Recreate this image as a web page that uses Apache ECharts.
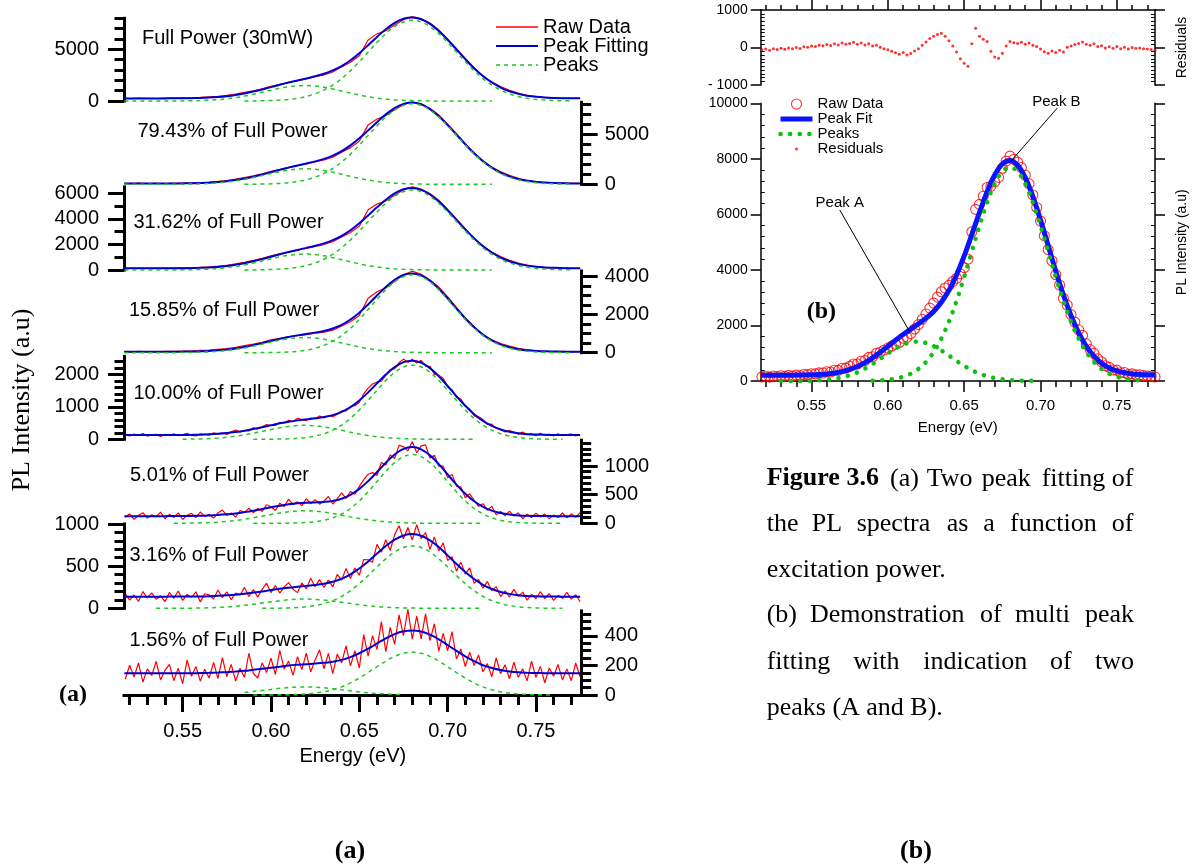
<!DOCTYPE html>
<html>
<head>
<meta charset="utf-8">
<title>Two peak fitting of PL spectra</title>
<script src="https://cdn.jsdelivr.net/npm/echarts@6/dist/echarts.min.js"></script>
<style>
html,body{margin:0;padding:0;background:#ffffff;}
#chart{width:1193px;height:865px;}
</style>
</head>
<body>
<div id="chart"></div>
<script>
const _ = null;

// ---------------- energies (eV) ----------------
const energy = [0.517,0.52,0.525,0.53,0.535,0.54,0.545,0.55,0.555,0.56,0.565,0.57,0.575,0.58,0.585,0.59,0.595,0.6,0.605,0.61,0.615,0.62,0.625,0.63,0.635,0.64,0.645,0.65,0.655,0.66,0.665,0.67,0.675,0.68,0.685,0.69,0.695,0.7,0.705,0.71,0.715,0.72,0.725,0.73,0.735,0.74,0.745,0.75,0.755,0.76,0.765,0.77,0.775];
const energyFine = [0.5175,0.52,0.5225,0.525,0.5275,0.53,0.5325,0.535,0.5375,0.54,0.5425,0.545,0.5475,0.55,0.5525,0.555,0.5575,0.56,0.5625,0.565,0.5675,0.57,0.5725,0.575,0.5775,0.58,0.5825,0.585,0.5875,0.59,0.5925,0.595,0.5975,0.6,0.6025,0.605,0.6075,0.61,0.6125,0.615,0.6175,0.62,0.6225,0.625,0.6275,0.63,0.6325,0.635,0.6375,0.64,0.6425,0.645,0.6475,0.65,0.6525,0.655,0.6575,0.66,0.6625,0.665,0.6675,0.67,0.6725,0.675,0.6775,0.68,0.6825,0.685,0.6875,0.69,0.6925,0.695,0.6975,0.7,0.7025,0.705,0.7075,0.71,0.7125,0.715,0.7175,0.72,0.7225,0.725,0.7275,0.73,0.7325,0.735,0.7375,0.74,0.7425,0.745,0.7475,0.75,0.7525,0.755,0.7575,0.76,0.7625,0.765,0.7675,0.77,0.7725,0.775];

// ---------------- panel (a) labels ----------------
const subplotLabels = ['Full Power (30mW)','79.43% of Full Power','31.62% of Full Power','15.85% of Full Power','10.00% of Full Power','5.01% of Full Power','3.16% of Full Power','1.56% of Full Power'];

// ---------------- panel (a) data ----------------
const raw1 = [280,230,270,261,241,283,276,303,305,347,392,457,548,672,830,990,1179,1424,1621,1817,1961,2126,2351,2512,2807,3304,3740,4375,5898,6494,6795,7361,7860,8167,7964,7539,6888,6015,5066,4109,3205,2368,1834,1393,1043,768,555,424,337,287,284,262,246];
const fit1 = [250,250,250,251,251,253,256,263,275,297,332,387,468,582,730,910,1119,1344,1571,1787,1991,2186,2391,2632,2957,3384,3940,4625,5398,6194,6945,7561,7960,8087,7914,7459,6768,5915,4986,4049,3175,2418,1794,1303,943,688,515,404,337,297,274,262,256];
const peakA1 = [0,0,0,1,1,3,7,13,25,47,82,137,218,330,474,648,845,1047,1235,1383,1476,1499,1448,1329,1163,966,765,576,413,281,182,112,66,37,20,10,5,2,1,0,0,0,0,_,_,_,_,_,_,_,_,_,_];
const peakB1 = [_,_,_,_,_,_,_,_,_,_,_,_,_,_,5,12,24,47,87,154,265,438,693,1053,1544,2168,2925,3799,4735,5663,6513,7199,7644,7800,7644,7199,6513,5663,4735,3799,2925,2168,1544,1053,693,438,265,154,87,47,24,12,_];

const raw2 = [100,70,110,81,96,78,107,128,136,178,219,292,381,518,660,852,1048,1295,1485,1688,1859,2030,2232,2440,2705,3216,3669,4315,5942,6534,6870,7446,7957,8228,8069,7580,6937,6016,5067,4050,3139,2278,1724,1247,906,602,404,264,179,128,115,87,86];
const fit2 = [80,80,80,81,81,83,87,93,106,128,164,222,306,423,575,762,978,1210,1445,1668,1879,2080,2292,2540,2875,3316,3889,4595,5392,6214,6990,7626,8037,8168,7989,7520,6807,5926,4967,4000,3099,2318,1674,1167,796,532,354,239,169,128,105,92,86];
const peakA2 = [0,0,0,1,1,3,7,13,26,48,84,142,225,341,490,670,873,1082,1276,1429,1525,1548,1496,1373,1201,998,791,595,426,290,188,116,68,38,20,10,5,2,1,0,0,0,0,_,_,_,_,_,_,_,_,_,_];
const peakB2 = [_,_,_,_,_,_,_,_,_,_,_,_,_,_,6,12,25,48,89,159,274,452,716,1087,1594,2238,3019,3920,4886,5844,6722,7430,7889,8050,7889,7430,6722,5844,4886,3920,3019,2238,1594,1087,716,452,274,159,89,48,25,12,_];

const raw3 = [145,120,150,135,126,153,145,166,171,209,243,299,372,477,604,749,913,1110,1268,1421,1552,1680,1852,1991,2206,2592,2931,3424,4718,5161,5400,5852,6260,6501,6331,5977,5463,4749,4005,3214,2504,1837,1407,1044,766,541,382,274,204,167,159,134,134];
const fit3 = [130,130,130,130,131,133,135,141,151,169,198,244,312,407,529,679,853,1040,1228,1406,1572,1730,1892,2081,2336,2672,3111,3654,4268,4901,5500,5992,6310,6411,6271,5907,5353,4669,3925,3174,2474,1867,1367,974,686,481,342,254,199,167,149,139,134];
const peakA3 = [0,0,0,1,1,3,5,11,21,39,68,114,181,275,395,540,704,873,1029,1153,1230,1249,1206,1108,969,805,638,480,344,234,151,94,55,31,16,8,4,2,1,0,0,0,0,_,_,_,_,_,_,_,_,_,_];
const peakB3 = [_,_,_,_,_,_,_,_,_,_,_,_,_,_,4,9,19,38,69,124,213,351,556,844,1238,1738,2344,3044,3794,4538,5219,5769,6125,6250,6125,5769,5219,4538,3794,3044,2344,1738,1238,844,556,351,213,124,69,38,19,9,_];

const raw4 = [70,35,75,50,41,77,68,87,84,120,134,178,216,287,370,453,550,678,758,838,892,946,1027,1075,1185,1407,1625,1958,2861,3209,3400,3741,4111,4290,4126,3826,3456,2950,2391,1841,1367,922,685,486,345,227,155,100,75,55,70,42,56];
const fit4 = [50,50,50,50,51,52,53,57,64,75,94,123,166,227,305,398,505,618,728,828,912,986,1057,1145,1275,1467,1745,2108,2541,3009,3460,3841,4091,4170,4066,3786,3366,2860,2321,1801,1337,952,655,436,285,187,125,90,70,60,55,52,51];
const peakA4 = [0,0,0,0,1,2,3,7,14,25,44,73,116,176,253,346,450,558,658,738,787,799,772,709,620,515,408,307,220,150,97,60,35,20,10,5,3,1,0,0,0,0,0,_,_,_,_,_,_,_,_,_,_];
const peakB4 = [_,_,_,_,_,_,_,_,_,_,_,_,_,_,1,2,5,10,20,40,75,137,235,386,605,902,1287,1751,2271,2809,3313,3731,4006,4100,4006,3731,3313,2809,2271,1751,1287,902,605,386,235,137,75,40,20,10,5,2,_];

const raw5 = [142,105,160,122,175,100,135,152,90,149,
  119,167,113,144,183,122,105,168,156,125,
  201,159,195,147,230,285,227,271,261,354,
  322,384,452,425,427,519,501,583,541,647,
  608,577,654,633,719,653,731,694,768,873,
  877,1007,1034,1141,1400,1573,1701,1764,1785,1970,
  2140,2164,2356,2467,2366,2460,2345,2429,2250,2245,
  2005,1969,1875,1620,1528,1290,1238,1016,932,723,
  695,606,459,466,337,312,226,265,223,160,
  222,149,172,109,186,122,160,103,172,111,
  141,165,105,145];
const fit5 = [130,130,130,130,130,131,132,134,137,143,153,169,192,225,266,316,372,433,491,541,582,615,645,683,744,843,992,1196,1443,1719,1990,2219,2372,2420,2359,2190,1939,1640,1325,1031,773,566,411,302,230,185,159,144,137,133,131,130,130];
const peakA5 = [_,_,_,_,_,_,_,4,7,13,23,39,62,95,136,186,242,300,354,397,423,430,415,381,333,277,219,165,118,80,52,32,19,11,6,3,1,1,0,0,0,_,_,_,_,_,_,_,_,_,_,_,_];
const peakB5 = [_,_,_,_,_,_,_,_,_,_,_,_,_,_,_,1,1,3,7,14,29,55,100,172,281,436,643,901,1195,1509,1808,2057,2223,2280,2223,2057,1808,1509,1195,901,643,436,281,172,100,55,29,14,7,3,1,_,_];

const raw6 = [105,165,70,140,185,90,150,115,195,80,
  156,101,182,67,138,174,101,197,120,157,
  91,180,231,137,180,108,224,190,263,185,
  260,209,324,289,223,351,294,421,325,378,
  308,428,341,414,334,388,467,336,430,529,
  433,556,508,645,758,856,885,834,1061,1018,
  1194,1130,1359,1338,1264,1425,1231,1351,1368,1140,
  1189,997,998,793,854,650,635,445,515,404,
  296,342,229,296,150,208,130,212,125,183,
  80,156,100,178,112,161,81,145,100,180,
  95,165,105,185];
const fit6 = [125,125,125,125,125,125,126,127,129,132,137,145,157,173,195,220,249,279,306,331,348,358,364,373,391,429,496,600,736,894,1058,1200,1298,1330,1291,1185,1032,853,675,515,384,287,221,178,152,138,131,128,126,125,125,125,125];
const peakA6 = [_,_,_,_,_,_,1,2,4,7,12,20,32,48,70,95,124,154,181,203,217,220,212,195,171,142,112,85,61,41,27,17,10,5,3,1,1,0,0,0,0,0,_,_,_,_,_,_,_,_,_,_,_];
const peakB6 = [_,_,_,_,_,_,_,_,_,_,_,_,_,_,_,0,0,0,1,3,6,13,27,53,96,162,259,390,550,728,906,1058,1163,1200,1163,1058,906,728,550,390,259,162,96,53,27,13,6,3,1,0,0,_,_];

const raw7 = [173,98,158,83,198,123,183,108,148,78,
  188,119,204,94,165,130,196,76,173,159,
  111,218,126,194,103,182,158,248,140,221,
  133,225,298,186,269,181,253,304,225,186,
  301,231,357,257,340,247,334,255,403,335,
  472,353,478,392,579,576,548,759,664,813,
  686,874,979,824,958,811,991,826,899,696,
  846,681,777,568,612,441,548,405,479,297,
  343,239,319,209,257,139,208,136,224,141,
  192,97,165,113,197,115,175,94,154,118,
  188,108,163,78];
const fit7 = [138,138,138,138,138,138,139,139,140,141,144,148,154,162,173,186,200,216,231,244,256,266,277,292,315,350,403,472,556,649,738,814,864,881,861,806,726,628,526,430,347,279,229,194,171,156,147,143,140,139,138,138,138];
const peakA7 = [_,_,_,_,0,0,1,1,2,3,6,10,16,24,35,48,62,77,91,101,108,110,106,98,85,71,56,42,30,21,13,8,5,3,1,1,0,0,0,0,0,0,_,_,_,_,_,_,_,_,_,_,_];
const peakB7 = [_,_,_,_,_,_,_,_,_,_,_,_,_,_,_,_,0,1,2,5,9,18,33,56,91,141,209,292,388,490,587,668,722,740,722,668,587,490,388,292,209,141,91,56,33,18,9,5,2,1,0,_,_];

const raw8 = [107,202,122,217,87,177,132,227,102,167,
  207,97,182,77,237,127,193,94,175,115,
  221,112,254,125,207,94,182,119,283,146,
  115,218,152,250,139,302,176,230,133,260,
  172,284,156,238,306,178,282,145,277,218,
  333,197,300,183,409,264,402,309,497,294,
  459,343,543,402,580,378,534,380,550,369,
  483,297,418,299,429,244,311,192,291,199,
  271,157,213,123,251,144,205,110,222,119,
  178,96,230,119,194,83,183,127,207,102,
  177,97,217,122];
const fit8 = [147,147,147,147,147,147,147,147,147,149,150,152,155,159,164,171,178,185,192,200,205,209,213,218,225,238,257,283,314,349,384,413,432,438,430,409,377,339,299,262,229,202,183,169,160,154,151,149,148,147,147,147,147];
const peakA8 = [_,_,_,_,_,_,_,_,_,_,_,_,_,_,17,24,31,38,45,51,54,55,53,49,43,35,28,21,15,10,7,4,2,_,_,_,_,_,_,_,_,_,_,_,_,_,_,_,_,_,_,_,_];
const peakB8 = [_,_,_,_,_,_,_,_,_,_,_,_,_,_,_,0,0,0,1,2,4,7,13,22,36,55,82,115,152,192,230,262,283,290,283,262,230,192,152,115,82,55,36,22,13,7,4,2,1,0,_,_,_];

// ---------------- panel (b) data ----------------
const rawB = [150,170,140,180,160,191,166,201,177,213,
  190,236,229,262,258,294,289,334,326,387,
  384,460,464,527,611,614,714,734,850,875,
  994,1043,1110,1187,1256,1325,1389,1542,1571,1709,
  1875,2031,2223,2415,2627,2808,3022,3215,3350,3445,
  3584,3702,3864,4085,4390,5375,6186,6366,6659,6972,
  7018,7173,7336,7668,7922,8105,7990,7885,7691,7416,
  7106,6705,6254,5762,5234,4735,4333,3830,3459,2978,
  2735,2391,2123,1845,1643,1340,1133,995,799,692,
  547,492,398,393,300,306,236,256,225,224,
  198,182,169,145];
const fitB = [210,210,210,211,211,213,216,222,234,254,287,340,417,524,664,835,1033,1247,1465,1672,1869,2061,2265,2508,2835,3265,3822,4505,5275,6066,6812,7423,7818,7945,7775,7326,6645,5802,4885,3960,3098,2351,1735,1250,895,642,472,363,296,256,234,222,215];
const peakAb = [_,_,_,1,1,3,6,12,24,44,77,130,206,312,449,613,799,991,1169,1309,1397,1419,1370,1258,1101,915,724,545,391,266,172,106,62,35,19,9,5,2,_,_,_,_,_,_,_,_,_,_,_,_,_,_,_];
const peakBb = [_,_,_,_,_,_,_,_,_,_,_,_,_,_,_,12,24,46,86,153,262,432,685,1040,1525,2141,2888,3750,4674,5590,6430,7107,7546,7700,7546,7107,6430,5590,4674,3750,2888,2141,1525,1040,685,432,262,153,86,46,24,_,_];
const residB = [-60,-40,-70,-30,-50,-20,-45,-10,-35,0,
  -25,20,10,40,30,60,45,80,55,100,
  70,120,85,110,140,90,120,70,100,40,
  60,10,-30,-60,-100,-140,-180,-130,-200,-160,
  -90,-30,60,150,240,300,350,380,300,180,
  40,-120,-300,-420,-500,100,515,300,220,160,
  -100,-250,-285,-150,40,160,130,110,140,90,
  120,60,30,-40,-110,-150,-90,-130,-70,-120,
  10,40,80,110,150,90,60,100,30,50,
  -10,20,-20,30,-30,10,-40,0,-20,-10,
  -30,-40,-50,-70];

// ---------------- tick values ----------------
const xMajor = [0.55,0.6,0.65,0.7,0.75];
const xMinor = [0.52,0.53,0.54,0.56,0.57,0.58,0.59,0.61,0.62,0.63,0.64,0.66,0.67,0.68,0.69,0.71,0.72,0.73,0.74,0.76,0.77];
const yMajorA = [[0,5000],[0,5000],[0,2000,4000,6000],[0,2000,4000],[0,1000,2000],[0,500,1000],[0,500,1000],[0,200,400]];
const yMinorA = [
  [1000,2000,3000,4000,6000,7000,8000],
  [1000,2000,3000,4000,6000,7000,8000],
  [1000,3000,5000],
  [500,1000,1500,2500,3000,3500],
  [200,400,600,800,1200,1400,1600,1800,2200,2400],
  [100,200,300,400,600,700,800,900,1100,1200,1300,1400],
  [100,200,300,400,600,700,800,900],
  [50,100,150,250,300,350,450,500,550]
];
const yMaxA = [8000,8200,6500,4300,2550,1450,1000,570];
const resMajor = [-1000,0,1000];
const resMinor = [-900,-800,-700,-600,-500,-400,-300,-200,-100,100,200,300,400,500,600,700,800,900];
const intMajor = [0,2000,4000,6000,8000,10000];
const intMinor = [400,800,1200,1600,2400,2800,3200,3600,4400,4800,5200,5600,6400,6800,7200,7600,8400,8800,9200,9600];

// ---------------- layout (pixels) ----------------
const layoutA = [
  {side:'left',  top:18.3,  height:82.7, tx:142,   ty:38.3},
  {side:'right', top:102.3, height:82,   tx:137.5, ty:131.7},
  {side:'left',  top:186.9, height:83.1, tx:133.5, ty:222.3},
  {side:'right', top:271,   height:81.7, tx:129,   ty:310},
  {side:'left',  top:356.4, height:82.9, tx:133.5, ty:393.3},
  {side:'right', top:440.2, height:83.1, tx:130,   ty:475},
  {side:'left',  top:524,   height:84.3, tx:129.5, ty:555},
  {side:'right', top:610.9, height:84.1, tx:129.5, ty:640}
];
const dataA = [
  {x:energy, raw:raw1, fit:fit1, pa:peakA1, pb:peakB1},
  {x:energy, raw:raw2, fit:fit2, pa:peakA2, pb:peakB2},
  {x:energy, raw:raw3, fit:fit3, pa:peakA3, pb:peakB3},
  {x:energy, raw:raw4, fit:fit4, pa:peakA4, pb:peakB4},
  {x:energyFine, raw:raw5, fit:fit5, pa:peakA5, pb:peakB5},
  {x:energyFine, raw:raw6, fit:fit6, pa:peakA6, pb:peakB6},
  {x:energyFine, raw:raw7, fit:fit7, pa:peakA7, pb:peakB7},
  {x:energyFine, raw:raw8, fit:fit8, pa:peakA8, pb:peakB8}
];

const SANS = '"Liberation Sans", Arial, Helvetica, sans-serif';
const SERIF = '"Liberation Serif", "Times New Roman", Times, serif';
const XA0 = 0.5168, XA1 = 0.7759;
const XB0 = 0.5167, XB1 = 0.775;
const RED = '#ff0000', BLUE = '#0000d2', GREEN = '#1ec81e';
const BLUE_B = '#0a14ff', GREEN_B = '#10c010';
const plain = v => String(v);

const grids = [], xAxes = [], yAxes = [], series = [];
function addGrid(g){ grids.push(Object.assign({containLabel:false, outerBoundsMode:'none'}, g)); return grids.length - 1; }
function addX(a){ xAxes.push(a); return xAxes.length - 1; }
function addY(a){ yAxes.push(a); return yAxes.length - 1; }
function axis(o){
  return {
    type:'value', gridIndex:o.grid, position:o.pos, offset:0, min:o.min, max:o.max, silent:true,
    axisLine:{show:!!o.line, onZero:false, lineStyle:{color:'#000', width:o.line || 1, cap:'square'}},
    axisTick:{show:!!o.ticks, customValues:o.ticks, length:o.len || 5, inside:!!o.inside, lineStyle:{color:'#000', width:o.tw || 1}},
    axisLabel:{show:!!o.labels, customValues:o.labels, margin:o.margin || 8, color:'#000', fontSize:o.fs || 12, fontFamily:SANS, formatter:o.fmt || plain},
    splitLine:{show:false}, minorTick:{show:false}, minorSplitLine:{show:false},
    name:o.name || '', nameLocation:'middle', nameGap:o.nameGap || 0, nameRotate:o.nameRotate,
    nameTextStyle:{color:'#000', fontSize:o.nfs || 12, fontFamily:SANS}
  };
}
function pairs(xs, ys){ return xs.map((x, i) => [x, ys[i]]); }

// ---------------- panel (a) ----------------
layoutA.forEach((l, i) => {
  const g = addGrid({left:124, right:611.3, top:l.top, height:l.height});
  let xi;
  if (i < 7) {
    xi = addX({type:'value', gridIndex:g, min:XA0, max:XA1, show:false});
  } else {
    xi = addX(axis({grid:g, pos:'bottom', min:XA0, max:XA1, line:3, ticks:xMajor, len:17, tw:3,
      labels:xMajor, margin:26, fs:20, fmt:v => Number(v).toFixed(2),
      name:'Energy (eV)', nameGap:51, nfs:20}));
    addX(axis({grid:g, pos:'bottom', min:XA0, max:XA1, ticks:xMinor, len:10, tw:3}));
  }
  const yi = addY(axis({grid:g, pos:l.side, min:0, max:yMaxA[i], line:3, ticks:yMajorA[i], len:16, tw:3,
    labels:yMajorA[i], margin:l.side === 'left' ? 25 : 23, fs:20}));
  addY(axis({grid:g, pos:l.side, min:0, max:yMaxA[i], ticks:yMinorA[i], len:9.5, tw:3}));
  const d = dataA[i];
  series.push({type:'line', name:'Raw Data', xAxisIndex:xi, yAxisIndex:yi, data:pairs(d.x, d.raw),
    symbol:'none', clip:false, silent:true, z:2, lineStyle:{color:RED, width:1.2}, itemStyle:{color:RED}});
  series.push({type:'line', name:'Peak Fitting', xAxisIndex:xi, yAxisIndex:yi, data:pairs(energy, d.fit),
    symbol:'none', smooth:0.35, clip:false, silent:true, z:3, lineStyle:{color:BLUE, width:2}, itemStyle:{color:BLUE}});
  [d.pa, d.pb].forEach(p => series.push({type:'line', name:'Peaks', xAxisIndex:xi, yAxisIndex:yi,
    data:pairs(energy, p), symbol:'none', smooth:0.35, clip:false, silent:true, z:4,
    lineStyle:{color:GREEN, width:1.5, type:[4,4]}, itemStyle:{color:GREEN}}));
});

// ---------------- panel (b) residuals ----------------
const gR = addGrid({left:760.7, right:38, top:10, height:75});
const xR = addX(axis({grid:gR, pos:'top', min:XB0, max:XB1, line:1.5, ticks:xMajor, len:10, tw:1.5}));
addX(axis({grid:gR, pos:'top', min:XB0, max:XB1, ticks:xMinor, len:5, tw:1.5}));
const yR = addY(axis({grid:gR, pos:'left', min:-1000, max:1000, line:1.5, ticks:resMajor, len:10, tw:1.5,
  labels:resMajor, margin:13, fs:14, fmt:v => (v < 0 ? '- ' + Math.abs(v) : String(v))}));
addY(axis({grid:gR, pos:'left', min:-1000, max:1000, ticks:resMinor, len:4, tw:1, inside:true}));
addY(axis({grid:gR, pos:'right', min:-1000, max:1000, line:1.5, ticks:resMajor, len:10, tw:1.5,
  name:'Residuals', nameGap:20, nameRotate:90, nfs:14}));
addY(axis({grid:gR, pos:'right', min:-1000, max:1000, ticks:resMinor, len:4, tw:1, inside:true}));

// ---------------- panel (b) main ----------------
const gM = addGrid({left:760.7, right:38, top:103.5, height:277.5});
const xM = addX(axis({grid:gM, pos:'bottom', min:XB0, max:XB1, line:1.5, ticks:xMajor, len:11, tw:1.5,
  labels:xMajor, margin:17, fs:15, fmt:v => Number(v).toFixed(2), name:'Energy (eV)', nameGap:39, nfs:15}));
addX(axis({grid:gM, pos:'bottom', min:XB0, max:XB1, ticks:xMinor, len:6, tw:1.5}));
const yM = addY(axis({grid:gM, pos:'left', min:0, max:10000, line:1.5, ticks:intMajor, len:10, tw:1.5,
  labels:intMajor, margin:13, fs:14}));
addY(axis({grid:gM, pos:'left', min:0, max:10000, ticks:intMinor, len:4, tw:1, inside:true}));
addY(axis({grid:gM, pos:'right', min:0, max:10000, line:1.5, ticks:intMajor, len:10, tw:1.5,
  name:'PL Intensity (a.u)', nameGap:20, nameRotate:90, nfs:14}));
addY(axis({grid:gM, pos:'right', min:0, max:10000, ticks:intMinor, len:4, tw:1, inside:true}));

series.push({type:'scatter', name:'Raw Data (b)', xAxisIndex:xM, yAxisIndex:yM, data:pairs(energyFine, rawB),
  symbol:'circle', symbolSize:10, silent:true, z:2,
  itemStyle:{color:'rgba(255,0,0,0)', borderColor:RED, borderWidth:1.1}});
const fitBIndex = series.length;
series.push({type:'line', name:'Peak Fit', xAxisIndex:xM, yAxisIndex:yM, data:pairs(energy, fitB),
  symbol:'none', smooth:0.35, silent:true, z:3, lineStyle:{color:BLUE_B, width:5}, itemStyle:{color:BLUE_B},
  markLine:{silent:true, symbol:['none','arrow'], symbolSize:[0,8], animation:false,
    label:{show:false}, lineStyle:{color:'#000', width:1, type:'solid'}, emphasis:{disabled:true},
    data:[
      [{coord:[0.711, 9838]}, {coord:[0.6796, 7856]}],
      [{coord:[0.5685, 6162]}, {coord:[0.6143, 1777]}]
    ]}});
[peakAb, peakBb].forEach(p => series.push({type:'line', name:'Peaks (b)', xAxisIndex:xM, yAxisIndex:yM,
  data:pairs(energy, p), symbol:'none', smooth:0.35, silent:true, z:4,
  lineStyle:{color:GREEN_B, width:4.5, type:[0.1, 9.5], cap:'round'}, itemStyle:{color:GREEN_B}}));
series.push({type:'scatter', name:'Residuals', xAxisIndex:xR, yAxisIndex:yR, data:pairs(energyFine, residB),
  symbol:'circle', symbolSize:3, silent:true, itemStyle:{color:RED}});

const hideSym = {opacity:0, color:'rgba(0,0,0,0)', borderWidth:0};
const option = {
  animation:false,
  backgroundColor:'#ffffff',
  textStyle:{fontFamily:SANS},
  grid:grids, xAxis:xAxes, yAxis:yAxes, series:series,
  legend:[
    {data:[
        {name:'Raw Data', itemStyle:hideSym, lineStyle:{width:1.5}},
        {name:'Peak Fitting', itemStyle:hideSym, lineStyle:{width:2}},
        {name:'Peaks', itemStyle:hideSym, lineStyle:{width:1.5, type:[4,4]}}],
      orient:'vertical', left:490, top:12,
      itemWidth:42, itemHeight:12, itemGap:-1, selectedMode:false,
      textStyle:{fontSize:20, lineHeight:19, color:'#000', fontFamily:SANS}},
    {data:[
        {name:'Raw Data (b)', icon:'circle', itemStyle:{color:'rgba(255,0,0,0)', borderColor:RED, borderWidth:1.1}},
        {name:'Peak Fit', itemStyle:hideSym, lineStyle:{width:5, color:BLUE_B}},
        {name:'Peaks (b)', itemStyle:hideSym, lineStyle:{width:4.5, color:GREEN_B, type:[0.1, 9.5], cap:'round'}},
        {name:'Residuals', icon:'path://M0,0M8,8M2.8,4A1.2,1.2,0,1,1,5.2,4A1.2,1.2,0,1,1,2.8,4Z'}],
      formatter:n => n.replace(' (b)', ''), orient:'vertical', left:773, top:91.5,
      itemWidth:32, itemHeight:10, itemGap:0, selectedMode:false,
      textStyle:{fontSize:15, lineHeight:15, color:'#000', fontFamily:SANS}}
  ]
};

const chart = echarts.init(document.getElementById('chart'), null, {renderer:'canvas'});
chart.setOption(option);

// ---------------- text annotations ----------------
function txt(text, x, y, font, align){
  const a = align || 'left';
  return {type:'text', x:x, y:y, silent:true,
    style:{text:text, font:font, fill:'#000', textAlign:a, textVerticalAlign:'middle', align:a, verticalAlign:'middle'}};
}
const captionLines = [
  {y:478.7, words:[['Figure 3.6',766.7,true],['(a)',890],['Two',926.7],['peak',981.7],['fitting',1041.7],['of',1111.7]]},
  {y:523.7, words:[['the',766.7],['PL',811.7],['spectra',856.7],['as',946.7],['a',983.3],['function',1010],['of',1111.7]]},
  {y:569.7, words:[['excitation power.',766.7]]},
  {y:615.3, words:[['(b)',766.7],['Demonstration',810],['of',980],['multi',1015],['peak',1085]]},
  {y:662, words:[['fitting',766.7],['with',853.3],['indication',923.3],['of',1050],['two',1095]]},
  {y:708, words:[['peaks (A and B).',766.7]]}
];
const els = [];
layoutA.forEach((l, i) => els.push(txt(subplotLabels[i], l.tx, l.ty, '20px ' + SANS)));
els.push(txt('(a)', 59, 695, 'bold 24px ' + SERIF));
els.push(Object.assign(txt('PL Intensity (a.u)', 22, 400, '26px ' + SERIF, 'center'), {rotation:Math.PI / 2}));
captionLines.forEach(line => line.words.forEach(w =>
  els.push(txt(w[0], w[1], line.y, (w[2] ? 'bold ' : '') + '26px ' + SERIF))));
els.push(txt('(a)', 350, 851, 'bold 26px ' + SERIF, 'center'));
els.push(txt('(b)', 916, 851, 'bold 26px ' + SERIF, 'center'));

const pPeakB = chart.convertToPixel({seriesIndex:fitBIndex}, [0.7104, 10054]);
const pPeakA = chart.convertToPixel({seriesIndex:fitBIndex}, [0.5685, 6425]);
const pLabB = chart.convertToPixel({seriesIndex:fitBIndex}, [0.5564, 2497]);
els.push(txt('Peak B', pPeakB[0], pPeakB[1], '15px ' + SANS, 'center'));
els.push(txt('Peak A', pPeakA[0], pPeakA[1], '15px ' + SANS, 'center'));
els.push(txt('(b)', pLabB[0], pLabB[1], 'bold 24px ' + SERIF, 'center'));

chart.setOption({graphic:{elements:els}});
</script>
</body>
</html>
